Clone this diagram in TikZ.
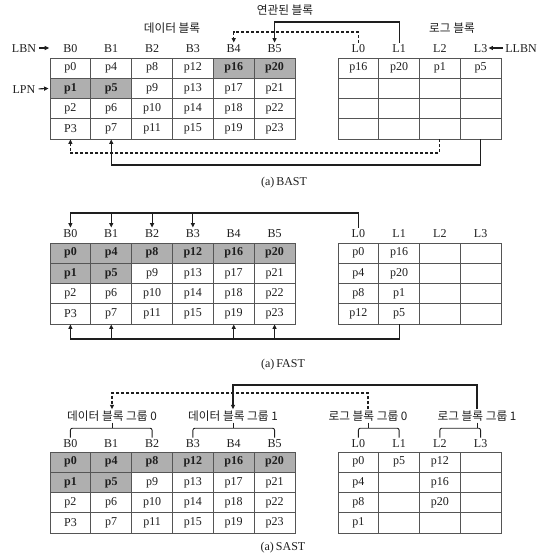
\documentclass[tikz,border=0pt]{standalone}
\usepackage{fontspec}
\setmainfont{Liberation Serif}
\newfontfamily\kr{Noto Sans CJK KR}
\usetikzlibrary{arrows.meta,calc}
\definecolor{shade}{RGB}{175,175,175}
\definecolor{grid}{RGB}{85,85,85}
\definecolor{ink}{RGB}{30,30,30}
\newcommand\datatable[3]{%
  \foreach \ci in {0,...,5}{%
    \foreach \ri in {1,...,4}{%
      \pgfmathtruncatemacro\nn{4*\ci+\ri-1}%
      \pgfmathtruncatemacro\sh{((\ri==1) && (\ci>=#3)) || ((\ri==2) && (\ci<=1))}%
      \node[cell,sh\sh] (#1-\ci-\ri) at ({50+(\ci+0.5)*40.83},{#2+(\ri-0.5)*20.25}) {\ifnum\nn=3 P\else p\fi\nn};
    }}}
\newcommand\logrow[4]{%
  \foreach \ent [count=\ci from 0] in {#4}{%
    \node[cell] (#1-\ci-#3) at ({338+(\ci+0.5)*40.75},{#2+(#3-0.5)*20.25}) {\ent};}}
\newcommand\grpbrace[3]{%
  \draw[brk] (#2.north) |- ($(#1.south)+(0,5.5)$) -| (#3.north);
  \draw[brk] (#1.south) -- ($(#1.south)+(0,5.5)$);}
\begin{document}
\begin{tikzpicture}[x=1pt,y=-1pt,
  cell/.style={draw=grid,line width=0.9pt,minimum width=40.8pt,minimum height=20.25pt,inner sep=0pt,font=\fontsize{12}{12}\selectfont,text=ink},
  sh0/.style={},
  sh1/.style={fill=shade,font=\fontsize{12}{12}\selectfont\bfseries},
  lab/.style={inner sep=1pt,text height=8.5pt,text depth=0pt,font=\fontsize{12}{12}\selectfont,text=ink},
  krlab/.style={inner sep=1pt,text height=9.5pt,text depth=1.5pt,font=\kr\fontsize{11.7}{12}\selectfont,text=ink},
  captext/.style={font=\fontsize{12}{12}\selectfont,text=ink},
  wire/.style={draw=ink,line width=1.1pt},
  arr/.style={wire,-{Triangle[length=4.5pt,width=4pt]}},
  darr/.style={arr,dash pattern=on 3pt off 2pt},
  brk/.style={draw=ink,line width=0.9pt,rounded corners=2pt}]
\useasboundingbox (0,0) rectangle (543,556);

% ---------------- BAST ----------------
\node[krlab] (bdata) at (172,29) {데이터 블록};
\node[krlab] (brel) at (285,11) {연관된 블록};
\node[krlab] (blog) at (452,29) {로그 블록};
\foreach \ci in {0,...,5} \node[lab] (bB\ci) at ({50+(\ci+0.5)*40.83},48) {B\ci};
\foreach \ci in {0,...,3} \node[lab] (bL\ci) at ({338+(\ci+0.5)*40.75},48) {L\ci};
\node[lab] (lbn) at (24,48) {LBN};
\node[lab] (lpn) at (24,89) {LPN};
\node[lab] (llbn) at (521,48) {LLBN};
\datatable{bd}{58}{4}
\logrow{bl}{58}{1}{p16,p20,p1,p5}
\logrow{bl}{58}{2}{{},{},{},{}}
\logrow{bl}{58}{3}{{},{},{},{}}
\logrow{bl}{58}{4}{{},{},{},{}}
\coordinate (bTopS) at (0,22);
\coordinate (bTopD) at (0,32);
\coordinate (bBotD) at (0,153);
\coordinate (bBotS) at (0,165);
\draw[arr] (bL1.north) -- (bL1.north |- bTopS) -| (bB5.north);
\draw[darr] (bL0.north) -- (bL0.north |- bTopD) -| (bB4.north);
\draw[darr] (bl-2-4.south) -- (bl-2-4.south |- bBotD) -| (bd-0-4.south);
\draw[arr] (bl-3-4.south) -- (bl-3-4.south |- bBotS) -| (bd-1-4.south);
\draw[arr,shorten <=2pt,shorten >=13pt] (lbn.east) -- (bB0.west);
\draw[arr,shorten <=2pt,shorten >=1pt] (lpn.east) -- (bd-0-2.west);
\draw[arr,shorten <=1pt,shorten >=0pt] (llbn.west) -- (bL3.east);
\node[captext] (capb) at (284,183) {(a)\,BAST};

% ---------------- FAST ----------------
\foreach \ci in {0,...,5} \node[lab] (fB\ci) at ({50+(\ci+0.5)*40.83},233) {B\ci};
\foreach \ci in {0,...,3} \node[lab] (fL\ci) at ({338+(\ci+0.5)*40.75},233) {L\ci};
\datatable{fd}{243}{0}
\logrow{fl}{243}{1}{p0,p16,{},{}}
\logrow{fl}{243}{2}{p4,p20,{},{}}
\logrow{fl}{243}{3}{p8,p1,{},{}}
\logrow{fl}{243}{4}{p12,p5,{},{}}
\coordinate (fTop) at (0,213);
\coordinate (fBot) at (0,339);
\draw[arr] (fL0.north) -- (fL0.north |- fTop) -| (fB0.north);
\foreach \ci in {1,2,3} \draw[arr] (fB\ci.north |- fTop) -- (fB\ci.north);
\draw[arr] (fl-1-4.south) -- (fl-1-4.south |- fBot) -| (fd-0-4.south);
\foreach \ci in {1,4,5} \draw[arr] (fd-\ci-4.south |- fBot) -- (fd-\ci-4.south);
\node[captext] (capf) at (283,365) {(a)\,FAST};

% ---------------- SAST ----------------
\node[krlab] (dg0) at (112,416) {데이터 블록 그룹 0};
\node[krlab] (dg1) at (233,416) {데이터 블록 그룹 1};
\node[krlab] (lg0) at (368,416) {로그 블록 그룹 0};
\node[krlab] (lg1) at (477,416) {로그 블록 그룹 1};
\foreach \ci in {0,...,5} \node[lab] (sB\ci) at ({50+(\ci+0.5)*40.83},443) {B\ci};
\foreach \ci in {0,...,3} \node[lab] (sL\ci) at ({338+(\ci+0.5)*40.75},443) {L\ci};
\datatable{sd}{452}{0}
\logrow{sl}{452}{1}{p0,p5,p12,{}}
\logrow{sl}{452}{2}{p4,{},p16,{}}
\logrow{sl}{452}{3}{p8,{},p20,{}}
\logrow{sl}{452}{4}{p1,{},{},{}}
\grpbrace{dg0}{sB0}{sB2}
\grpbrace{dg1}{sB3}{sB5}
\grpbrace{lg0}{sL0}{sL1}
\grpbrace{lg1}{sL2}{sL3}
\coordinate (sTopS) at (0,385);
\coordinate (sTopD) at (0,393);
\draw[darr] (lg0.north) -- (lg0.north |- sTopD) -| (dg0.north);
\draw[arr] (lg1.north) -- (lg1.north |- sTopS) -| (dg1.north);
\node[captext] (caps) at (283,548) {(a)\,SAST};
\end{tikzpicture}
\end{document}
